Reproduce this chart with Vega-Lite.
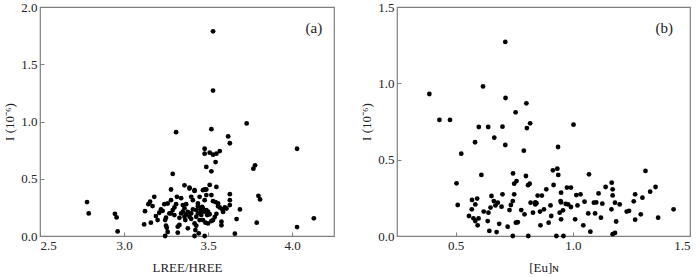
{
  "$schema": "https://vega.github.io/schema/vega-lite/v6.json",
  "padding": {"left": 3, "top": 0, "right": 5, "bottom": 0},
  "background": "white",
  "spacing": 25,
  "config": {
    "font": "Liberation Serif",
    "view": {"stroke": "#7f7f7f", "strokeWidth": 1.2},
    "axis": {
      "labelFont": "Liberation Serif",
      "titleFont": "Liberation Serif",
      "labelFontSize": 13,
      "titleFontSize": 13,
      "labelColor": "#222",
      "titleColor": "#222",
      "titleFontWeight": "normal",
      "grid": false,
      "domain": false,
      "tickColor": "#7f7f7f",
      "tickSize": -4,
      "labelPadding": 7
    }
  },
  "datasets": {
    "a": [
      {"x": 2.78, "y": 0.296}, {"x": 2.79, "y": 0.197}, {"x": 2.946, "y": 0.194}, {"x": 2.956, "y": 0.162}, {"x": 2.962, "y": 0.04},
      {"x": 3.31, "y": 0.907}, {"x": 3.29, "y": 0.542}, {"x": 3.28, "y": 0.406}, {"x": 3.53, "y": 1.788}, {"x": 3.53, "y": 1.27},
      {"x": 3.52, "y": 0.933}, {"x": 3.73, "y": 0.983}, {"x": 3.62, "y": 0.87}, {"x": 3.63, "y": 0.81}, {"x": 4.03, "y": 0.762},
      {"x": 3.48, "y": 0.762}, {"x": 3.48, "y": 0.719}, {"x": 3.51, "y": 0.728}, {"x": 3.53, "y": 0.71}, {"x": 3.55, "y": 0.719},
      {"x": 3.57, "y": 0.742}, {"x": 3.545, "y": 0.646}, {"x": 3.49, "y": 0.603}, {"x": 3.52, "y": 0.565}, {"x": 3.77, "y": 0.588},
      {"x": 3.78, "y": 0.617}, {"x": 3.80, "y": 0.351}, {"x": 3.81, "y": 0.319}, {"x": 3.79, "y": 0.116}, {"x": 4.03, "y": 0.078},
      {"x": 4.13, "y": 0.154}, {"x": 3.66, "y": 0.02}, {"x": 3.67, "y": 0.148}, {"x": 3.69, "y": 0.232}, {"x": 3.63, "y": 0.365},
      {"x": 3.63, "y": 0.313}, {"x": 3.63, "y": 0.27}, {"x": 3.585, "y": 0.232}, {"x": 3.59, "y": 0.21}, {"x": 3.57, "y": 0.249},
      {"x": 3.56, "y": 0.284}, {"x": 3.53, "y": 0.304}, {"x": 3.545, "y": 0.296}, {"x": 3.52, "y": 0.357}, {"x": 3.55, "y": 0.429},
      {"x": 3.51, "y": 0.446}, {"x": 3.58, "y": 0.125}, {"x": 3.58, "y": 0.093}, {"x": 3.55, "y": 0.194}, {"x": 3.53, "y": 0.139},
      {"x": 3.54, "y": 0.165}, {"x": 3.48, "y": 0.406}, {"x": 3.49, "y": 0.406}, {"x": 3.36, "y": 0.443}, {"x": 3.39, "y": 0.423},
      {"x": 3.42, "y": 0.40}, {"x": 3.12, "y": 0.101}, {"x": 3.125, "y": 0.217}, {"x": 3.145, "y": 0.278}, {"x": 3.155, "y": 0.299},
      {"x": 3.16, "y": 0.116}, {"x": 3.17, "y": 0.261}, {"x": 3.18, "y": 0.342}, {"x": 3.19, "y": 0.174}, {"x": 3.20, "y": 0.139},
      {"x": 3.21, "y": 0.203}, {"x": 3.22, "y": 0.232}, {"x": 3.23, "y": 0.220}, {"x": 3.24, "y": 0.278}, {"x": 3.245, "y": 0.139},
      {"x": 3.25, "y": 0.090}, {"x": 3.245, "y": 0.0}, {"x": 3.255, "y": 0.072}, {"x": 3.26, "y": 0.035}, {"x": 3.26, "y": 0.284},
      {"x": 3.27, "y": 0.197}, {"x": 3.28, "y": 0.313}, {"x": 3.28, "y": 0.197}, {"x": 3.29, "y": 0.226}, {"x": 3.30, "y": 0.183},
      {"x": 3.31, "y": 0.278}, {"x": 3.315, "y": 0.342}, {"x": 3.32, "y": 0.029}, {"x": 3.32, "y": 0.081}, {"x": 3.33, "y": 0.096},
      {"x": 3.33, "y": 0.159}, {"x": 3.34, "y": 0.197}, {"x": 3.35, "y": 0.212}, {"x": 3.36, "y": 0.168}, {"x": 3.36, "y": 0.241},
      {"x": 3.365, "y": 0.139}, {"x": 3.37, "y": 0.278}, {"x": 3.38, "y": 0.067}, {"x": 3.39, "y": 0.168}, {"x": 3.39, "y": 0.414},
      {"x": 3.40, "y": 0.342}, {"x": 3.40, "y": 0.197}, {"x": 3.41, "y": 0.232}, {"x": 3.41, "y": 0.313}, {"x": 3.42, "y": 0.110},
      {"x": 3.42, "y": 0.0}, {"x": 3.425, "y": 0.052}, {"x": 3.42, "y": 0.394}, {"x": 3.43, "y": 0.168}, {"x": 3.43, "y": 0.226},
      {"x": 3.44, "y": 0.284}, {"x": 3.44, "y": 0.197}, {"x": 3.445, "y": 0.023}, {"x": 3.45, "y": 0.139}, {"x": 3.45, "y": 0.342},
      {"x": 3.455, "y": 0.232}, {"x": 3.46, "y": 0.183}, {"x": 3.465, "y": 0.255}, {"x": 3.47, "y": 0.139}, {"x": 3.48, "y": 0.313},
      {"x": 3.48, "y": 0.0}, {"x": 3.48, "y": 0.212}, {"x": 3.485, "y": 0.116}, {"x": 3.49, "y": 0.226}, {"x": 3.495, "y": 0.183},
      {"x": 3.50, "y": 0.110}, {"x": 3.50, "y": 0.212}, {"x": 3.49, "y": 0.357}, {"x": 3.47, "y": 0.40}, {"x": 3.35, "y": 0.27},
      {"x": 3.38, "y": 0.21}, {"x": 3.40, "y": 0.15}, {"x": 3.44, "y": 0.26}, {"x": 3.46, "y": 0.21}, {"x": 3.52, "y": 0.13},
      {"x": 3.51, "y": 0.19}, {"x": 3.56, "y": 0.26}, {"x": 3.60, "y": 0.25}, {"x": 3.34, "y": 0.33}, {"x": 3.37, "y": 0.19},
      {"x": 3.43, "y": 0.09}, {"x": 3.47, "y": 0.24}, {"x": 3.30, "y": 0.25}, {"x": 3.25, "y": 0.16}, {"x": 3.61, "y": 0.24}
    ],
    "b": [
      {"x": 0.388, "y": 0.930}, {"x": 0.431, "y": 0.760}, {"x": 0.476, "y": 0.760}, {"x": 0.524, "y": 0.539}, {"x": 0.504, "y": 0.345},
      {"x": 0.509, "y": 0.203}, {"x": 0.617, "y": 0.980}, {"x": 0.599, "y": 0.714}, {"x": 0.583, "y": 0.614}, {"x": 0.639, "y": 0.714},
      {"x": 0.665, "y": 0.644}, {"x": 0.700, "y": 0.716}, {"x": 0.712, "y": 1.271}, {"x": 0.713, "y": 0.904}, {"x": 0.712, "y": 0.596},
      {"x": 0.756, "y": 0.810}, {"x": 0.802, "y": 0.869}, {"x": 0.804, "y": 0.707}, {"x": 0.818, "y": 0.738}, {"x": 0.791, "y": 0.559},
      {"x": 0.937, "y": 0.583}, {"x": 1.003, "y": 0.729}, {"x": 0.61, "y": 0.40}, {"x": 0.745, "y": 0.41}, {"x": 0.80, "y": 0.393},
      {"x": 0.75, "y": 0.343}, {"x": 0.76, "y": 0.36}, {"x": 0.915, "y": 0.43}, {"x": 0.934, "y": 0.441}, {"x": 0.938, "y": 0.40},
      {"x": 1.069, "y": 0.404}, {"x": 1.31, "y": 0.426}, {"x": 1.353, "y": 0.321}, {"x": 1.33, "y": 0.29}, {"x": 1.43, "y": 0.175},
      {"x": 1.364, "y": 0.12}, {"x": 1.29, "y": 0.142}, {"x": 1.266, "y": 0.107}, {"x": 1.26, "y": 0.227}, {"x": 1.266, "y": 0.273},
      {"x": 1.297, "y": 0.251}, {"x": 1.24, "y": 0.164}, {"x": 1.166, "y": 0.349}, {"x": 1.17, "y": 0.306}, {"x": 1.14, "y": 0.321},
      {"x": 1.17, "y": 0.266}, {"x": 1.18, "y": 0.218}, {"x": 1.185, "y": 0.095}, {"x": 1.20, "y": 0.207}, {"x": 1.165, "y": 0.175},
      {"x": 1.17, "y": 0.012}, {"x": 1.18, "y": 0.02}, {"x": 1.126, "y": 0.212}, {"x": 1.11, "y": 0.279}, {"x": 1.09, "y": 0.218},
      {"x": 1.095, "y": 0.148}, {"x": 1.12, "y": 0.12}, {"x": 1.075, "y": 0.028}, {"x": 1.045, "y": 0.070}, {"x": 1.05, "y": 0.225},
      {"x": 1.033, "y": 0.273}, {"x": 1.01, "y": 0.109}, {"x": 1.015, "y": 0.268}, {"x": 0.992, "y": 0.317}, {"x": 0.975, "y": 0.317},
      {"x": 0.98, "y": 0.207}, {"x": 0.992, "y": 0.19}, {"x": 0.95, "y": 0.284}, {"x": 0.948, "y": 0.229}, {"x": 0.958, "y": 0.168},
      {"x": 0.944, "y": 0.153}, {"x": 0.95, "y": 0.109}, {"x": 0.93, "y": 0.0}, {"x": 0.96, "y": 0.0}, {"x": 0.918, "y": 0.334},
      {"x": 0.908, "y": 0.131}, {"x": 0.897, "y": 0.087}, {"x": 0.887, "y": 0.306}, {"x": 0.877, "y": 0.175}, {"x": 0.868, "y": 0.265},
      {"x": 0.85, "y": 0.265}, {"x": 0.84, "y": 0.207}, {"x": 0.83, "y": 0.153}, {"x": 0.845, "y": 0.215}, {"x": 0.816, "y": 0.343},
      {"x": 0.809, "y": 0.333}, {"x": 0.82, "y": 0.218}, {"x": 0.794, "y": 0.142}, {"x": 0.862, "y": 0.07}, {"x": 0.81, "y": 0.0},
      {"x": 0.757, "y": 0.087}, {"x": 0.75, "y": 0.273}, {"x": 0.744, "y": 0.229}, {"x": 0.736, "y": 0.203}, {"x": 0.722, "y": 0.061},
      {"x": 0.70, "y": 0.273}, {"x": 0.696, "y": 0.192}, {"x": 0.68, "y": 0.218}, {"x": 0.686, "y": 0.08}, {"x": 0.675, "y": 0.026},
      {"x": 0.663, "y": 0.229}, {"x": 0.653, "y": 0.262}, {"x": 0.649, "y": 0.186}, {"x": 0.64, "y": 0.153}, {"x": 0.637, "y": 0.098},
      {"x": 0.644, "y": 0.033}, {"x": 0.592, "y": 0.245}, {"x": 0.584, "y": 0.207}, {"x": 0.569, "y": 0.175}, {"x": 0.576, "y": 0.116},
      {"x": 0.57, "y": 0.236}, {"x": 0.557, "y": 0.131}, {"x": 0.584, "y": 0.098}, {"x": 0.594, "y": 0.07}, {"x": 0.598, "y": 0.115},
      {"x": 1.066, "y": 0.148}, {"x": 0.744, "y": 0.0}, {"x": 0.765, "y": 0.09}, {"x": 0.78, "y": 0.17}, {"x": 0.86, "y": 0.16},
      {"x": 0.905, "y": 0.2}, {"x": 0.97, "y": 0.21}, {"x": 1.02, "y": 0.2}, {"x": 1.1, "y": 0.22}, {"x": 1.23, "y": 0.16},
      {"x": 0.67, "y": 0.2}, {"x": 0.62, "y": 0.16}, {"x": 0.73, "y": 0.17}, {"x": 0.84, "y": 0.22}, {"x": 0.95, "y": 0.22}
    ],
    "la": [{"x": 4.13, "y": 1.82, "t": "(a)"}],
    "lb": [{"x": 1.39, "y": 1.365, "t": "(b)"}]
  },
  "hconcat": [
    {
      "width": 294,
      "height": 229,
      "layer": [
        {
          "data": {"name": "a"},
          "mark": {"type": "circle", "size": 23, "color": "black", "opacity": 1},
          "encoding": {
            "x": {"field": "x", "type": "quantitative", "scale": {"domain": [2.5, 4.25], "nice": false, "zero": false}, "axis": {"values": [2.5, 3.0, 3.5, 4.0], "format": ".1f", "title": "LREE/HREE", "titlePadding": 9}},
            "y": {"field": "y", "type": "quantitative", "scale": {"domain": [0, 2.0], "nice": false}, "axis": {"values": [0, 0.5, 1.0, 1.5, 2.0], "format": ".1f", "title": "I (10⁻⁶)", "titlePadding": 4}}
          }
        },
        {
          "data": {"name": "la"},
          "mark": {"type": "text", "fontSize": 15, "font": "Liberation Serif", "color": "#222"},
          "encoding": {
            "x": {"field": "x", "type": "quantitative"},
            "y": {"field": "y", "type": "quantitative"},
            "text": {"field": "t"}
          }
        }
      ]
    },
    {
      "width": 293,
      "height": 229,
      "layer": [
        {
          "data": {"name": "b"},
          "mark": {"type": "circle", "size": 23, "color": "black", "opacity": 1},
          "encoding": {
            "x": {"field": "x", "type": "quantitative", "scale": {"domain": [0.25, 1.5], "nice": false, "zero": false}, "axis": {"values": [0.5, 1.0, 1.5], "format": ".1f", "title": "[Eu]ɴ", "titlePadding": 9}},
            "y": {"field": "y", "type": "quantitative", "scale": {"domain": [0, 1.5], "nice": false}, "axis": {"values": [0, 0.5, 1.0, 1.5], "format": ".1f", "title": "I (10⁻⁶)", "titlePadding": 4}}
          }
        },
        {
          "data": {"name": "lb"},
          "mark": {"type": "text", "fontSize": 15, "font": "Liberation Serif", "color": "#222"},
          "encoding": {
            "x": {"field": "x", "type": "quantitative"},
            "y": {"field": "y", "type": "quantitative"},
            "text": {"field": "t"}
          }
        }
      ]
    }
  ]
}
